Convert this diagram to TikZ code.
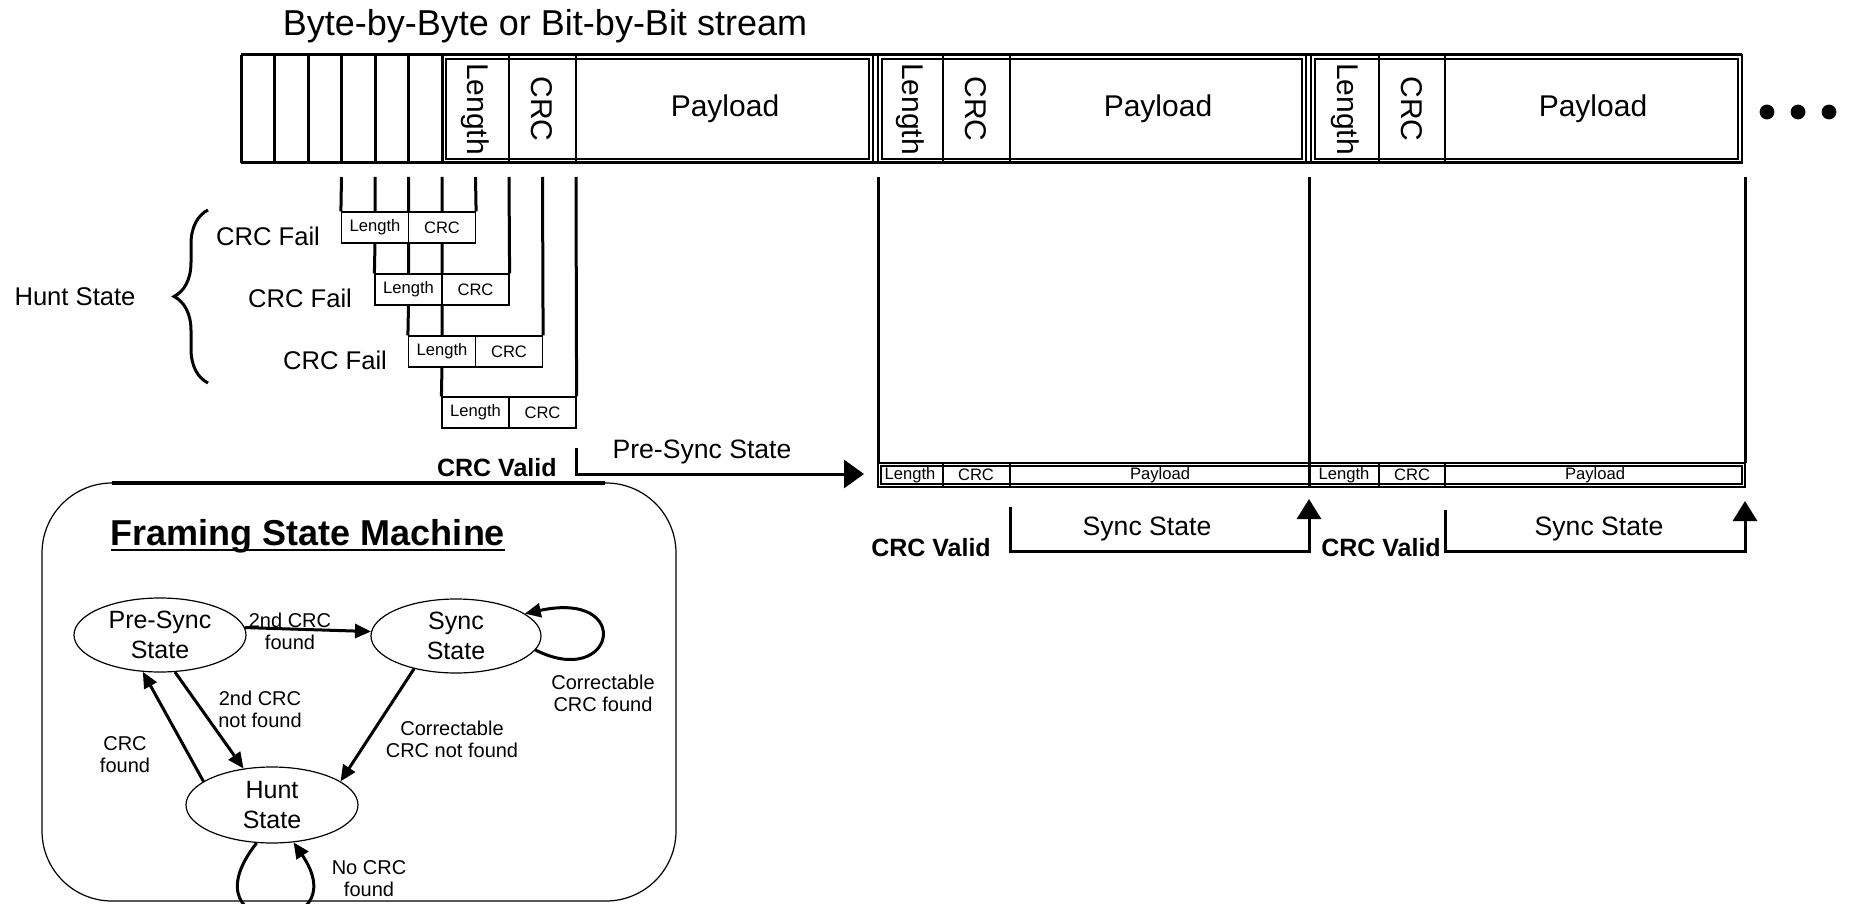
\documentclass[tikz,border=0pt]{standalone}
\usepackage{fontspec}
\setmainfont{Liberation Sans}
\usetikzlibrary{arrows.meta,decorations.pathreplacing,shapes.geometric,calc}
\begin{document}
\begin{tikzpicture}[x=0.5pt,y=-0.5pt,
  thk/.style={line width=1.5pt},
  thn/.style={line width=0.6pt},
  cell/.style={inner sep=0pt, font=\fontsize{15}{17}\selectfont},
  vcell/.style={cell, rotate=-90},
  tinylbl/.style={inner sep=0pt, font=\fontsize{8.3}{10}\selectfont},
  sbox/.style={draw, thn, minimum width=33.5pt, minimum height=15.5pt, inner sep=0pt, font=\fontsize{8.3}{10}\selectfont},
  note/.style={inner sep=0pt, font=\fontsize{12.8}{15}\selectfont},
  stname/.style={inner sep=0pt, font=\fontsize{13.3}{15}\selectfont},
  valid/.style={inner sep=0pt, font=\bfseries\fontsize{12.5}{15}\selectfont},
  st/.style={ellipse, draw, thn, minimum width=86pt, minimum height=37pt, inner sep=0pt, align=center, font=\fontsize{12.5}{15}\selectfont},
  elab/.style={inner sep=0pt, align=center, font=\fontsize{10}{11}\selectfont},
  arr/.style={thk, -{Triangle[length=8pt,width=7pt]}},
  bigarr/.style={thk, -{Triangle[length=10pt,width=14pt]}},
  uparr/.style={thk, -{Triangle[length=10pt,width=12pt]}}]
\fill[white] (0,0) rectangle (1849,904);
\useasboundingbox (0,0) rectangle (1849,904);

% title
\node[inner sep=0pt, font=\fontsize{18}{21}\selectfont] (title) at (545,26) {Byte-by-Byte or Bit-by-Bit stream};

% stream bar
\foreach \a/\b in {442/873, 878/1306, 1311/1742} {
  \draw[thn] (\a,55) rectangle (\b,163);
  \draw[thn] (\a+4,59) rectangle (\b-4,159);
}
\draw[thk] (241,55) -- (1742,55) (241,163) -- (1742,163);
\foreach \x in {241,274.5,308,341.5,375,408.5,442} \draw[thk] (\x,55) -- (\x,163);
\foreach \x in {509,576,943,1010,1379,1445} \draw[thn] (\x,55) -- (\x,163);

\node[vcell] (len1) at (475,109) {Length};
\node[vcell] (crc1) at (542,109) {CRC};
\node[cell] (pay1) at (725,109) {Payload};
\node[vcell] (len2) at (910,109) {Length};
\node[vcell] (crc2) at (976,109) {CRC};
\node[cell] (pay2) at (1158,109) {Payload};
\node[vcell] (len3) at (1345,109) {Length};
\node[vcell] (crc3) at (1412,109) {CRC};
\node[cell] (pay3) at (1593,109) {Payload};

\foreach \x [count=\i] in {1767,1798,1829}
  \node[circle, fill, minimum size=7.4pt, inner sep=0pt] (dot\i) at (\x,112) {};

% hunting boxes
\foreach \j/\y in {0/227.5, 1/289.5, 2/351.5, 3/412.5} {
  \node[sbox] (bl\j) at (375+33.5*\j, \y) {Length};
  \node[sbox] (bc\j) at (442+33.5*\j, \y) {CRC};
}
\draw[thk]
 (341.5,177) -- (bl0.north west)
 (375,177) -- (375,212) (375,243) -- (bl1.north west)
 (408.5,177) -- (408.5,212) (408.5,243) -- (408.5,274) (408.5,305) -- (bl2.north west)
 (442,177) -- (442,212) (442,243) -- (442,274) (442,305) -- (442,336) (442,367) -- (bl3.north west)
 (475.5,177) -- (bc0.north east)
 (509,177) -- (bc1.north east)
 (542.5,177) -- (bc2.north east)
 (576,177) -- (bc3.north east);

\draw[thk, decorate, decoration={brace, amplitude=17pt}] (208,383) -- (208,210);
\node[note] (hunt0) at (75,297) {Hunt State};
\node[note] (fail1) at (268,236) {CRC Fail};
\node[note] (fail2) at (300,298) {CRC Fail};
\node[note] (fail3) at (335,360) {CRC Fail};

% pre-sync
\node[valid, anchor=east] (cv1) at (557,468) {CRC Valid};
\coordinate (lowstart) at (878,474);
\draw[bigarr] (576,448) -- (576,474) -- ($(lowstart)+(-14,0)$);
\node[stname] (ps) at (702,452) {Pre-Sync State};

% lower bar
\draw[thn] (878,463) rectangle (1745,487);
\draw[thn] (881,466) rectangle (1742,484);
\foreach \x in {943,1010,1379,1445} \draw[thn] (\x,463) -- (\x,487);
\node[tinylbl] (ll1) at (910,475) {Length};
\node[tinylbl] (lc1) at (976,475) {CRC};
\node[tinylbl] (lp1) at (1160,475) {Payload};
\node[tinylbl] (ll2) at (1344,475) {Length};
\node[tinylbl] (lc2) at (1412,475) {CRC};
\node[tinylbl] (lp2) at (1595,475) {Payload};

\draw[thk] (878,177) -- (878,463);
\draw[thk] (1309,177) -- (1309,487);
\draw[thk] (1745,177) -- (1745,463);

% sync arrows
\node[valid] (cv2) at (931,548) {CRC Valid};
\draw[uparr] (1010,507) -- (1010,551) -- (1309,551) -- (1309,499);
\node[stname] (ss1) at (1147,529) {Sync State};
\node[valid] (cv3) at (1381,548) {CRC Valid};
\draw[uparr] (1445,510) -- (1445,551) -- (1745,551) -- (1745,501);
\node[stname] (ss2) at (1599,529) {Sync State};

% state machine
\draw[thn, rounded corners=35pt] (42,483) rectangle (676,901);
\draw[line width=1.8pt] (112,483) -- (605,483);
\node[inner sep=0pt, anchor=base, font=\bfseries\fontsize{18}{21}\selectfont] (fsm) at (308,545) {Framing State Machine};
\draw[line width=1.1pt] ($(fsm.base west)+(0,5)$) -- ($(fsm.base east)+(0,5)$);

\node[st] (pre) at (160,635) {Pre-Sync\\State};
\node[st, minimum width=85pt] (sync) at (456,636) {Sync\\State};
\node[st, minimum height=38pt] (hunt) at (272,805) {Hunt\\State};

\draw[arr] (pre.5) -- (sync.177);
\draw[arr] (pre.-68) -- (hunt.128);
\draw[arr] (hunt.161) -- (pre.-115);
\draw[arr] (sync.-142) -- (hunt.19);
\draw[arr] (sync.-10) .. controls (615,690) and (635,590) .. (sync.18);
\draw[arr] (hunt.-112) .. controls (180,940) and (360,940) .. (hunt.-60);

\node[elab] (l1) at (290,631) {2nd CRC\\found};
\node[elab] (l2) at (260,709) {2nd CRC\\not found};
\node[elab] (l3) at (125,755) {CRC\\found};
\node[elab] (l4) at (452,739) {Correctable\\CRC not found};
\node[elab] (l5) at (603,693) {Correctable\\CRC found};
\node[elab] (l6) at (369,879) {No CRC\\found};
\end{tikzpicture}
\end{document}
